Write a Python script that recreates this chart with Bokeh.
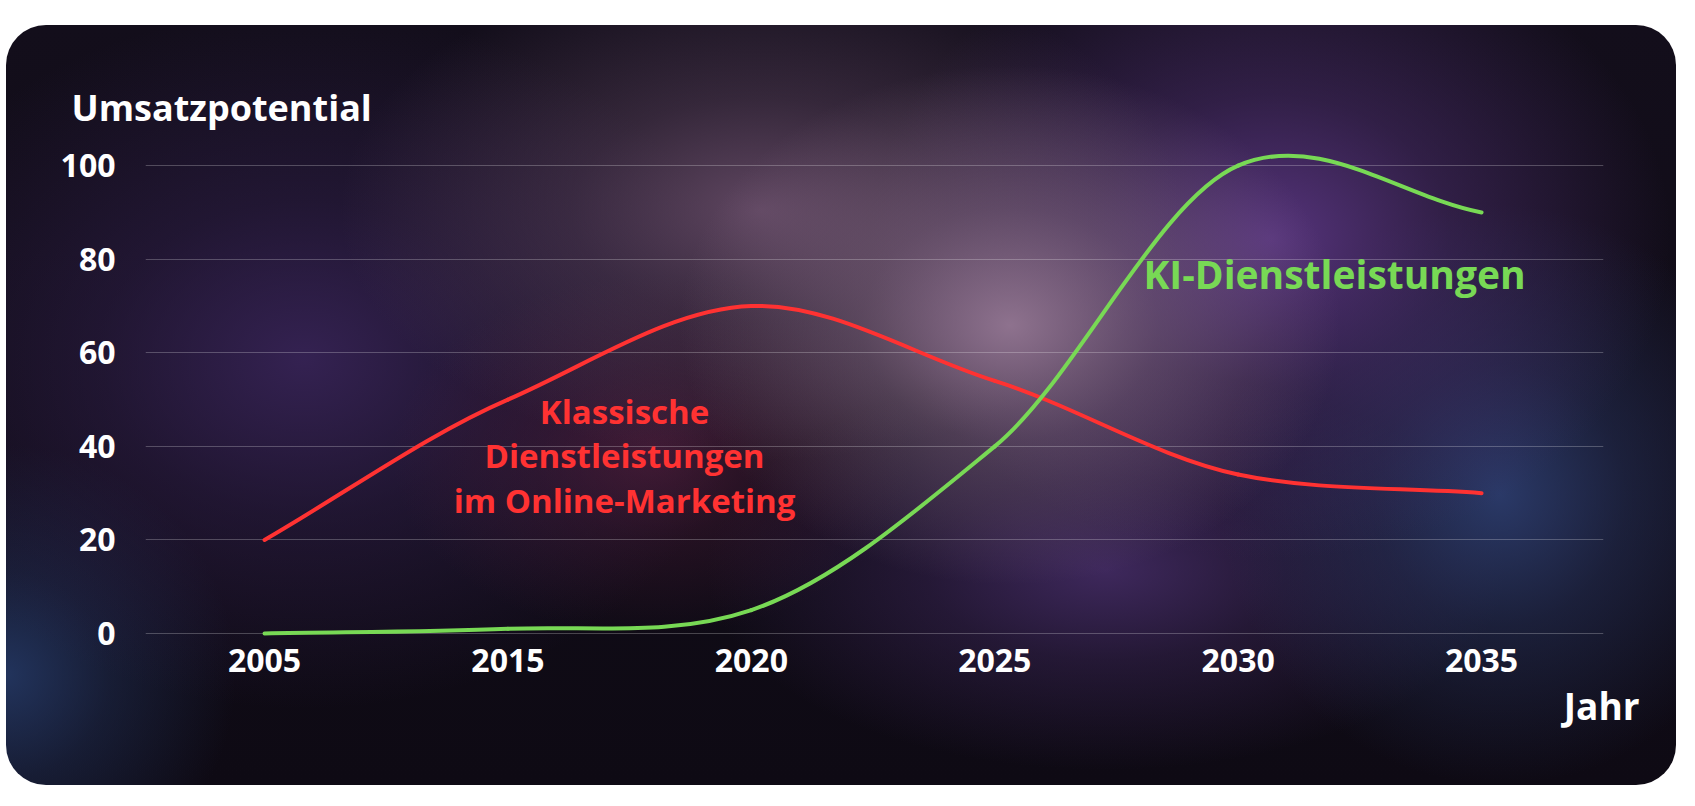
import numpy as np
from bokeh.plotting import figure
from bokeh.models import Range1d, FixedTicker, Label, ColumnDataSource, Title
from bokeh.embed import file_html
from bokeh.resources import INLINE

# ---- data ----
years = ["2005", "2015", "2020", "2025", "2030", "2035"]
klassisch = [20, 50, 70, 54, 34, 30]
ki = [0, 1, 5, 40, 100, 90]
y_ticks = [0, 20, 40, 60, 80, 100]

FONT = "Open Sans"
RED = "#ff3232"
GREEN = "#78d955"


def spline_segments(vals, k=0.9):
    """Smooth cubic curve through the data points, as bezier segments."""
    x = np.arange(len(vals), dtype=float)
    y = np.asarray(vals, dtype=float)
    m = np.empty(len(y))
    m[1:-1] = k * (y[2:] - y[:-2]) / 2.0
    m[0] = y[1] - y[0]
    m[-1] = y[-1] - y[-2]
    return ColumnDataSource(dict(
        x0=x[:-1], y0=y[:-1], x1=x[1:], y1=y[1:],
        cx0=x[:-1] + 1 / 3, cy0=y[:-1] + m[:-1] / 3,
        cx1=x[1:] - 1 / 3, cy1=y[1:] - m[1:] / 3,
    ))


def blob(w, h, x, y, r, g, b, a, mid=0.45):
    c = f"{r},{g},{b}"
    return (f"radial-gradient(ellipse {w}px {h}px at {x}px {y}px, rgba({c},{a}) 0%, "
            f"rgba({c},{a * mid:.3f}) 45%, rgba({c},0) 100%)")


bg = ", ".join([
    blob(330, 260, 1004, 300, 142, 114, 142, 1.0),
    blob(420, 250, 754, 185, 115, 85, 115, 0.8),
    blob(400, 320, 1265, 214, 86, 52, 124, 1.0),
    blob(260, 180, 646, 431, 100, 35, 70, 0.55),
    blob(280, 290, 1494, 470, 45, 62, 112, 0.9),
    blob(400, 200, 1100, 545, 78, 50, 116, 0.75),
    blob(450, 350, 298, 334, 56, 36, 88, 0.9),
    blob(230, 230, 0, 650, 36, 56, 100, 0.9),
    "linear-gradient(180deg, #130e1b 0%, #0e0a14 100%)",
])

p = figure(
    width=1670, height=760,
    x_range=Range1d(-0.489, 5.501), y_range=Range1d(-1.5, 104.1),
    output_backend="svg", toolbar_location=None,
    min_border_left=139, min_border_right=73,
    min_border_top=121, min_border_bottom=145,
)
p.styles = {
    "margin-top": "25px",
    "margin-left": "6px",
    "border-radius": "40px",
    "background": bg,
    "overflow": "hidden",
}
p.background_fill_color = None
p.border_fill_color = None
p.outline_line_color = None

# titles (axis captions)
p.title = Title(text="Umsatzpotential", align="left", offset=-74, standoff=29,
                text_color="#ffffff", text_font=FONT, text_font_style="bold",
                text_font_size="36px")
p.add_layout(Title(text="Jahr", align="right", offset=-36, standoff=6,
                   text_color="#ffffff", text_font=FONT, text_font_style="bold",
                   text_font_size="37px"), "below")

# grid
p.xgrid.grid_line_color = None
p.ygrid.ticker = FixedTicker(ticks=y_ticks)
p.ygrid.grid_line_color = "#ffffff"
p.ygrid.grid_line_alpha = 0.24
p.ygrid.grid_line_width = 1

# axes
for ax in (p.xaxis[0], p.yaxis[0]):
    ax.axis_line_color = None
    ax.major_tick_line_color = None
    ax.minor_tick_line_color = None
    ax.major_label_text_color = "#ffffff"
    ax.major_label_text_font = FONT
    ax.major_label_text_font_style = "bold"
    ax.major_label_text_font_size = "32px"

p.xaxis.ticker = FixedTicker(ticks=list(range(len(years))))
p.xaxis.major_label_overrides = {i: y for i, y in enumerate(years)}
p.xaxis.major_label_standoff = 2
p.yaxis.ticker = FixedTicker(ticks=y_ticks)
p.yaxis.major_label_standoff = 24

# curves
p.bezier("x0", "y0", "x1", "y1", "cx0", "cy0", "cx1", "cy1",
         source=spline_segments(klassisch), line_color=RED, line_width=4, line_cap="round")
p.bezier("x0", "y0", "x1", "y1", "cx0", "cy0", "cx1", "cy1",
         source=spline_segments(ki), line_color=GREEN, line_width=4, line_cap="round")

# annotations inside the plot area
def add_label(x, y, text, color, size, align="left"):
    p.add_layout(Label(x=x, y=y, text=text, text_color=color, text_font=FONT,
                       text_font_style="bold", text_font_size=size,
                       text_align=align, text_baseline="alphabetic"))

add_label(1.479, 47.4, "Klassische", RED, "33px", "center")
add_label(1.479, 38.1, "Dienstleistungen", RED, "33px", "center")
add_label(1.479, 28.5, "im Online-Marketing", RED, "33px", "center")
add_label(4.396, 77.0, "KI-Dienstleistungen", GREEN, "39px", "center")

open("out.html", "w").write(file_html(p, INLINE))
